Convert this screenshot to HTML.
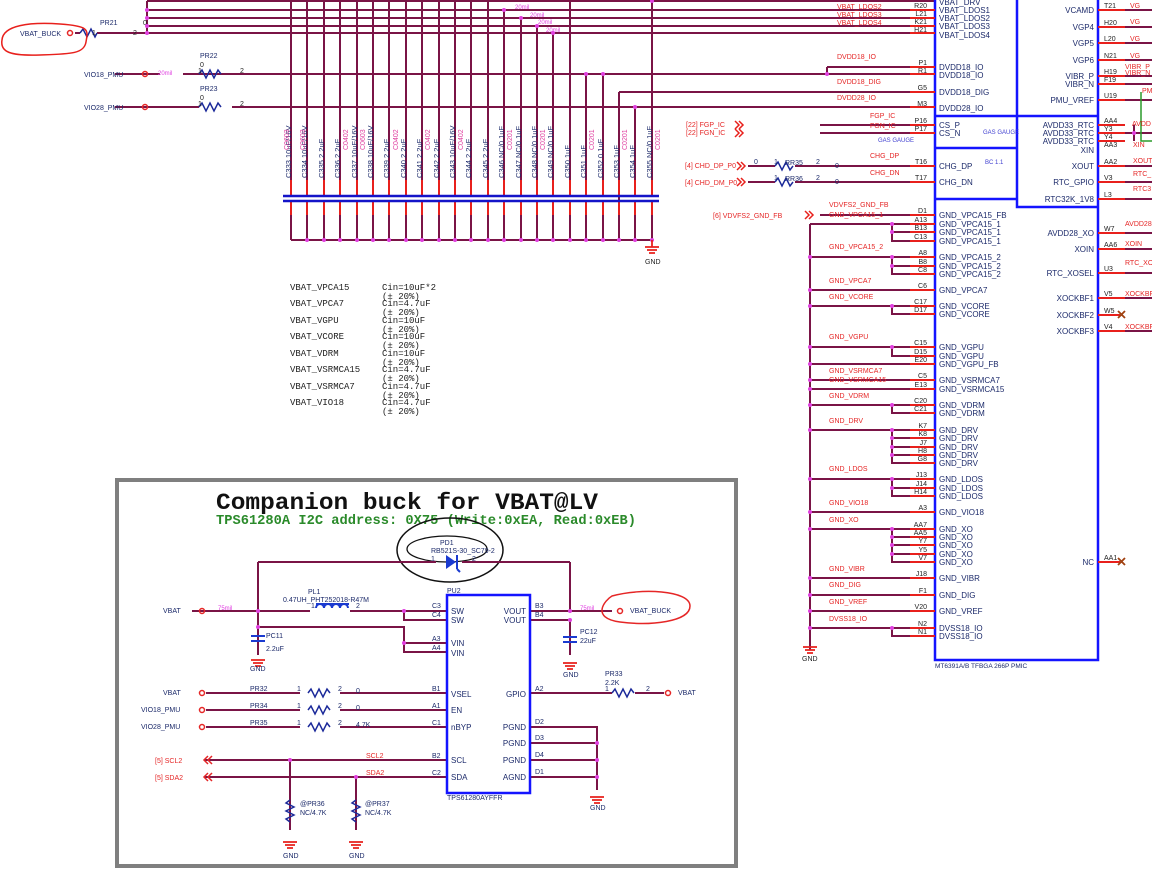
<!DOCTYPE html>
<html><head><meta charset="utf-8"><style>
html,body{margin:0;padding:0;background:#fff;width:1152px;height:877px;overflow:hidden}
svg{display:block;font-family:"Liberation Sans",sans-serif}
.w{stroke:#7a1446;stroke-width:2;fill:none}
.r{stroke:#e8201c;stroke-width:2;fill:none}
.b{stroke:#1414ff;stroke-width:2.5;fill:none}
.p{font-size:8px;fill:#1c2a6a}
.n{font-size:7px;fill:#e52626}
.k{font-size:7px;fill:#1c2a6a}
.g{font-size:7px;fill:#222}
.m{font-family:"Liberation Mono",monospace;font-size:9.5px;fill:#222}
</style></head><body>
<svg width="1152" height="877" viewBox="0 0 1152 877" xmlns="http://www.w3.org/2000/svg">
<path class="w" d="M147 1H935M147 10H910M147 18H910M147 26H910M75 33H80M97 33H910M147 1V33
M115 74H160M183 74H910M827 67H910M827 67V74M115 107H199M232 107H910M619 92H910M619 92V240"/>
<path stroke="#1c2a9a" stroke-width="1.5" fill="none" d="M80 33l3-4 4 8 4-8 4 8 2-4"/>
<path stroke="#1c2a9a" stroke-width="1.5" fill="none" d="M199 74l3-4 4 8 4-8 4 8 4-8 3 4M199 107l3-4 4 8 4-8 4 8 4-8 3 4"/>
<circle cx="70" cy="33" r="2.5" fill="none" stroke="#e52626" stroke-width="1.5"/>
<circle cx="145" cy="74" r="2.5" fill="none" stroke="#e52626" stroke-width="1.5"/>
<circle cx="145" cy="107" r="2.5" fill="none" stroke="#e52626" stroke-width="1.5"/>
<path d="M2 40C3 25 30 22 60 24S88 30 86 42 70 54 40 55 0 52 2 40Z" fill="none" stroke="#e8201c" stroke-width="1.5"/>
<text x="20" y="36" class="k">VBAT_BUCK</text>
<text x="92" y="35" class="g">1</text><text x="133" y="35" class="g">2</text><text x="143" y="25" class="g">0</text>
<text x="100" y="25" class="k">PR21</text>
<text x="84" y="110" class="k">VIO28_PMU</text><text x="84" y="77" class="k">VIO18_PMU</text>
<text x="200" y="58" class="k">PR22</text><text x="200" y="67" class="g">0</text><text x="198" y="73" class="g">1</text><text x="240" y="73" class="g">2</text>
<text x="200" y="91" class="k">PR23</text><text x="200" y="100" class="g">0</text><text x="198" y="106" class="g">1</text><text x="240" y="106" class="g">2</text>
<text x="158" y="75" font-size="6" fill="#e040e0">20mil</text>
<text x="515" y="9" font-size="6" fill="#e040e0">20mil</text><text x="530" y="17" font-size="6" fill="#e040e0">20mil</text>
<text x="538" y="24" font-size="6" fill="#e040e0">20mil</text><text x="546" y="32" font-size="6" fill="#e040e0">20mil</text>
<path class="w" d="M291 1V180M307 1V180M324 1V180M340 1V180M357 1V180M373 1V180M389 1V180M406 1V180M422 1V180M439 1V180M455 1V180M471 1V180M488 1V180M504 10V180M521 18V180M537 26V180M553 33V180M570 1V180M586 74V180M603 74V180M635 107V180M652 1V180
M291 215V240M307 215V240M324 215V240M340 215V240M357 215V240M373 215V240M389 215V240M406 215V240M422 215V240M439 215V240M455 215V240M471 215V240M488 215V240M504 215V240M521 215V240M537 215V240M553 215V240M570 215V240M586 215V240M603 215V240M619 215V240M635 215V240M652 215V240M291 240H652M619 180V190"/>
<path class="r" d="M291 180V196M307 180V196M324 180V196M340 180V196M357 180V196M373 180V196M389 180V196M406 180V196M422 180V196M439 180V196M455 180V196M471 180V196M488 180V196M504 180V196M521 180V196M537 180V196M553 180V196M570 180V196M586 180V196M603 180V196M619 180V196M635 180V196M652 180V196
M291 201V215M307 201V215M324 201V215M340 201V215M357 201V215M373 201V215M389 201V215M406 201V215M422 201V215M439 201V215M455 201V215M471 201V215M488 201V215M504 201V215M521 201V215M537 201V215M553 201V215M570 201V215M586 201V215M603 201V215M619 201V215M635 201V215M652 201V215"/>
<path stroke="#1414c8" stroke-width="2.5" d="M283 196H659M283 201H659"/>
<g fill="#e040e0"><circle cx="147" cy="10" r="2"/><circle cx="147" cy="18" r="2"/><circle cx="147" cy="26" r="2"/><circle cx="147" cy="33" r="2"/><circle cx="504" cy="10" r="2"/><circle cx="521" cy="18" r="2"/><circle cx="537" cy="26" r="2"/><circle cx="553" cy="33" r="2"/><circle cx="586" cy="74" r="2"/><circle cx="603" cy="74" r="2"/><circle cx="635" cy="107" r="2"/><circle cx="652" cy="1" r="2"/><circle cx="827" cy="74" r="2"/></g>
<g fill="#e040e0"><circle cx="307" cy="240" r="2"/><circle cx="324" cy="240" r="2"/><circle cx="340" cy="240" r="2"/><circle cx="357" cy="240" r="2"/><circle cx="373" cy="240" r="2"/><circle cx="389" cy="240" r="2"/><circle cx="406" cy="240" r="2"/><circle cx="422" cy="240" r="2"/><circle cx="439" cy="240" r="2"/><circle cx="455" cy="240" r="2"/><circle cx="471" cy="240" r="2"/><circle cx="488" cy="240" r="2"/><circle cx="504" cy="240" r="2"/><circle cx="521" cy="240" r="2"/><circle cx="537" cy="240" r="2"/><circle cx="553" cy="240" r="2"/><circle cx="570" cy="240" r="2"/><circle cx="586" cy="240" r="2"/><circle cx="603" cy="240" r="2"/><circle cx="619" cy="240" r="2"/><circle cx="635" cy="240" r="2"/><circle cx="652" cy="240" r="2"/></g>
<path d="M645 247h14M647 250h10M649 253h6M652 240v7" stroke="#e8201c" stroke-width="1.8"/>
<text x="645" y="264" class="g">GND</text>
<g font-size="7.5" fill="#1c2a6a">
<text transform="translate(291,178) rotate(-90)">C333 <tspan>10uF/16V</tspan></text>
<text transform="translate(307,178) rotate(-90)">C334 10uF/16V</text>
<text transform="translate(324,178) rotate(-90)">C335 2.2uF</text>
<text transform="translate(340,178) rotate(-90)">C336 2.2uF</text>
<text transform="translate(357,178) rotate(-90)">C337 10uF/16V</text>
<text transform="translate(373,178) rotate(-90)">C338 10uF/16V</text>
<text transform="translate(389,178) rotate(-90)">C339 2.2uF</text>
<text transform="translate(406,178) rotate(-90)">C340 2.2uF</text>
<text transform="translate(422,178) rotate(-90)">C341 2.2uF</text>
<text transform="translate(439,178) rotate(-90)">C342 2.2uF</text>
<text transform="translate(455,178) rotate(-90)">C343 10uF/16V</text>
<text transform="translate(471,178) rotate(-90)">C344 2.2uF</text>
<text transform="translate(488,178) rotate(-90)">C345 2.2uF</text>
<text transform="translate(504,178) rotate(-90)">C346 NC/0.1uF</text>
<text transform="translate(521,178) rotate(-90)">C347 NC/0.1uF</text>
<text transform="translate(537,178) rotate(-90)">C348 NC/0.1uF</text>
<text transform="translate(553,178) rotate(-90)">C349 NC/0.1uF</text>
<text transform="translate(570,178) rotate(-90)">C350 1uF</text>
<text transform="translate(586,178) rotate(-90)">C351 1uF</text>
<text transform="translate(603,178) rotate(-90)">C352 0.1uF</text>
<text transform="translate(619,178) rotate(-90)">C353 1uF</text>
<text transform="translate(635,178) rotate(-90)">C354 1uF</text>
<text transform="translate(652,178) rotate(-90)">C355 NC/0.1uF</text>
</g>
<g font-size="7" fill="#e040a0">
<text transform="translate(289,150) rotate(-90)">C0603</text><text transform="translate(305,150) rotate(-90)">C0603</text>
<text transform="translate(348,150) rotate(-90)">C0402</text><text transform="translate(365,150) rotate(-90)">C0603</text>
<text transform="translate(398,150) rotate(-90)">C0402</text><text transform="translate(430,150) rotate(-90)">C0402</text>
<text transform="translate(463,150) rotate(-90)">C0402</text><text transform="translate(512,150) rotate(-90)">C0201</text>
<text transform="translate(545,150) rotate(-90)">C0201</text><text transform="translate(594,150) rotate(-90)">C0201</text>
<text transform="translate(627,150) rotate(-90)">C0201</text><text transform="translate(660,150) rotate(-90)">C0201</text>
</g>
<g font-family="Liberation Mono,monospace" font-size="9" fill="#222">
<text x="290" y="290">VBAT_VPCA15</text><text x="382" y="290">Cin=10uF*2</text>
<text x="290" y="306">VBAT_VPCA7</text><text x="382" y="306">Cin=4.7uF</text>
<text x="290" y="323">VBAT_VGPU</text><text x="382" y="323">Cin=10uF</text>
<text x="290" y="339">VBAT_VCORE</text><text x="382" y="339">Cin=10uF</text>
<text x="290" y="356">VBAT_VDRM</text><text x="382" y="356">Cin=10uF</text>
<text x="290" y="372">VBAT_VSRMCA15</text><text x="382" y="372">Cin=4.7uF</text>
<text x="290" y="389">VBAT_VSRMCA7</text><text x="382" y="389">Cin=4.7uF</text>
<text x="290" y="405">VBAT_VIO18</text><text x="382" y="405">Cin=4.7uF</text>
<text x="382" y="299">(± 20%)</text><text x="382" y="315">(± 20%)</text><text x="382" y="332">(± 20%)</text><text x="382" y="348">(± 20%)</text><text x="382" y="365">(± 20%)</text><text x="382" y="381">(± 20%)</text><text x="382" y="398">(± 20%)</text><text x="382" y="414">(± 20%)</text>
</g>
<path class="b" d="M935 0V660H1098V0M1017 0V207H1098M935 116H1017M935 148H1017M935 199H1017M1017 116H1098"/>
<path class="r" d="M910 10H935M910 18H935M910 26H935M910 33H935M910 67H935M910 74H935M910 92H935M910 107H935M910 125H935M910 133H935M910 166H935M910 182H935M910 215H935M910 224H935M910 232H935M910 241H935M910 257H935M910 266H935M910 274H935M910 290H935M910 306H935M910 314H935M910 347H935M910 356H935M910 364H935M910 380H935M910 389H935M910 405H935M910 413H935M910 430H935M910 438H935M910 447H935M910 455H935M910 463H935M910 479H935M910 488H935M910 496H935M910 512H935M910 529H935M910 537H935M910 545H935M910 554H935M910 562H935M910 578H935M910 595H935M910 611H935M910 628H935M910 636H935"/>
<path class="r" d="M1098 10H1125M1098 27H1125M1098 43H1125M1098 60H1125M1098 76H1125M1098 84H1125M1098 100H1125M1098 125H1125M1098 133H1125M1098 141H1125M1098 166H1125M1098 182H1125M1098 199H1125M1098 233H1125M1098 249H1125M1098 273H1125M1098 298H1125M1098 315H1120M1098 331H1125M1098 562H1120"/>
<path class="w" d="M1125 10H1152M1125 27H1152M1125 43H1152M1125 60H1152M1125 76H1152M1125 84H1152M1125 100H1152M1125 166H1152M1125 182H1152M1125 199H1152M1125 233H1152M1125 249H1152M1125 273H1152M1125 298H1152M1125 331H1152M1134 125V141M1125 133H1152"/>
<path d="M1141 92V141H1152" stroke="#2a9a2a" stroke-width="1.5" fill="none"/>
<path d="M1118 311l7 7M1125 311l-7 7M1118 558l7 7M1125 558l-7 7" stroke="#a04010" stroke-width="1.8"/>
<path class="w" d="M820 125H910M820 133H910M748 166H775M795 166H910M748 182H775M795 182H910M820 215H910
M810 224V650M810 224H910M892 224V241H910M892 232H910M810 257H910M892 257V274H910M892 266H910M810 290H910M810 306H910M892 306V314H910
M810 347H910M892 347V356H910M810 364H910M810 380H910M810 389H910M810 405H910M892 405V413H910
M810 430H910M892 430V463H910M892 438H910M892 447H910M892 455H910M810 479H910M892 479V496H910M892 488H910M810 512H910
M810 529H910M892 529V562H910M892 537H910M892 545H910M892 554H910M810 578H910M810 595H910M810 611H910M810 628H910M892 628V636H910"/>
<path stroke="#1c2a9a" stroke-width="1.5" fill="none" d="M775 166l3-4 4 8 4-8 4 8 3-4M775 182l3-4 4 8 4-8 4 8 3-4"/>
<g fill="#e040e0"><circle cx="810" cy="257" r="2"/><circle cx="810" cy="290" r="2"/><circle cx="810" cy="306" r="2"/><circle cx="810" cy="347" r="2"/><circle cx="810" cy="364" r="2"/><circle cx="810" cy="380" r="2"/><circle cx="810" cy="389" r="2"/><circle cx="810" cy="405" r="2"/><circle cx="810" cy="430" r="2"/><circle cx="810" cy="479" r="2"/><circle cx="810" cy="512" r="2"/><circle cx="810" cy="529" r="2"/><circle cx="810" cy="578" r="2"/><circle cx="810" cy="595" r="2"/><circle cx="810" cy="611" r="2"/><circle cx="810" cy="628" r="2"/>
<circle cx="892" cy="224" r="2"/><circle cx="892" cy="232" r="2"/><circle cx="892" cy="257" r="2"/><circle cx="892" cy="266" r="2"/><circle cx="892" cy="306" r="2"/><circle cx="892" cy="347" r="2"/><circle cx="892" cy="405" r="2"/><circle cx="892" cy="430" r="2"/><circle cx="892" cy="438" r="2"/><circle cx="892" cy="447" r="2"/><circle cx="892" cy="455" r="2"/><circle cx="892" cy="479" r="2"/><circle cx="892" cy="488" r="2"/><circle cx="892" cy="529" r="2"/><circle cx="892" cy="537" r="2"/><circle cx="892" cy="545" r="2"/><circle cx="892" cy="554" r="2"/><circle cx="892" cy="628" r="2"/><circle cx="1134" cy="133" r="2"/></g>
<path d="M803 647h14M805 650h10M807 653h6" stroke="#e8201c" stroke-width="1.8"/>
<text x="802" y="661" class="g">GND</text>
<g stroke="#e8201c" stroke-width="1.5" fill="none"><path d="M735 121l4 4-4 4M739 121l4 4-4 4M735 129l4 4-4 4M739 129l4 4-4 4M737 162l4 4-4 4M741 162l4 4-4 4M737 178l4 4-4 4M741 178l4 4-4 4M805 211l4 4-4 4M809 211l4 4-4 4"/></g>
<g class="n">
<text x="686" y="127">[22]  FGP_IC</text><text x="686" y="135">[22]  FGN_IC</text>
<text x="685" y="168">[4]  CHD_DP_P0</text><text x="685" y="185">[4]  CHD_DM_P0</text>
<text x="713" y="218">[6]  VDVFS2_GND_FB</text>
<text x="837" y="59">DVDD18_IO</text><text x="837" y="84">DVDD18_DIG</text><text x="837" y="100">DVDD28_IO</text>
<text x="870" y="118">FGP_IC</text><text x="870" y="128">FGN_IC</text><text x="870" y="158">CHG_DP</text><text x="870" y="175">CHG_DN</text>
<text x="829" y="207">VDVFS2_GND_FB</text><text x="829" y="217">GND_VPCA15_1</text>
<text x="829" y="249">GND_VPCA15_2</text><text x="829" y="283">GND_VPCA7</text><text x="829" y="299">GND_VCORE</text>
<text x="829" y="339">GND_VGPU</text><text x="829" y="373">GND_VSRMCA7</text><text x="829" y="382">GND_VSRMCA15</text><text x="829" y="398">GND_VDRM</text>
<text x="829" y="423">GND_DRV</text><text x="829" y="471">GND_LDOS</text><text x="829" y="505">GND_VIO18</text><text x="829" y="522">GND_XO</text>
<text x="829" y="571">GND_VIBR</text><text x="829" y="587">GND_DIG</text><text x="829" y="604">GND_VREF</text><text x="829" y="621">DVSS18_IO</text>
<text x="837" y="9">VBAT_LDOS2</text><text x="837" y="17">VBAT_LDOS3</text><text x="837" y="25">VBAT_LDOS4</text>
<text x="1130" y="8">VG</text><text x="1130" y="24">VG</text><text x="1130" y="41">VG</text><text x="1130" y="58">VG</text><text x="1125" y="69">VIBR_P</text><text x="1125" y="75">VIBR_N</text><text x="1142" y="93">PM</text>
<text x="1132" y="126">AVDD</text><text x="1133" y="147">XIN</text><text x="1133" y="163">XOUT</text><text x="1133" y="176">RTC_</text><text x="1133" y="191">RTC3</text><text x="1125" y="226">AVDD28</text><text x="1125" y="246">XOIN</text><text x="1125" y="265">RTC_XO</text><text x="1125" y="296">XOCKBF</text><text x="1125" y="329">XOCKBF</text>
<text x="754" y="164" class="k">0</text>
</g>
<g class="k"><text x="785" y="165">RR35</text><text x="785" y="181">RR36</text><text x="774" y="164">1</text><text x="816" y="164">2</text><text x="835" y="168">0</text><text x="774" y="180">1</text><text x="816" y="180">2</text><text x="835" y="184">0</text>
<text x="878" y="142" font-size="6" fill="#4040d0">GAS  GAUGE</text><text x="983" y="134" font-size="6" fill="#4040d0">GAS  GAUGE</text><text x="985" y="164" font-size="6" fill="#4040d0">BC  1.1</text></g>
<g class="g" text-anchor="end">
<text x="927" y="8">R20</text><text x="927" y="16">L21</text><text x="927" y="24">K21</text><text x="927" y="32">H21</text>
<text x="927" y="65">P1</text><text x="927" y="73">R1</text><text x="927" y="90">G5</text><text x="927" y="106">M3</text>
<text x="927" y="123">P16</text><text x="927" y="131">P17</text><text x="927" y="164">T16</text><text x="927" y="180">T17</text>
<text x="927" y="213">D1</text><text x="927" y="222">A13</text><text x="927" y="230">B13</text><text x="927" y="239">C13</text>
<text x="927" y="255">A8</text><text x="927" y="264">B8</text><text x="927" y="272">C8</text><text x="927" y="288">C6</text><text x="927" y="304">C17</text><text x="927" y="312">D17</text>
<text x="927" y="345">C15</text><text x="927" y="354">D15</text><text x="927" y="362">E20</text><text x="927" y="378">C5</text><text x="927" y="387">E13</text><text x="927" y="403">C20</text><text x="927" y="411">C21</text>
<text x="927" y="428">K7</text><text x="927" y="436">K8</text><text x="927" y="445">J7</text><text x="927" y="453">H8</text><text x="927" y="461">G8</text>
<text x="927" y="477">J13</text><text x="927" y="486">J14</text><text x="927" y="494">H14</text><text x="927" y="510">A3</text>
<text x="927" y="527">AA7</text><text x="927" y="535">AA5</text><text x="927" y="543">Y7</text><text x="927" y="552">Y5</text><text x="927" y="560">V7</text>
<text x="927" y="576">J18</text><text x="927" y="593">F1</text><text x="927" y="609">V20</text><text x="927" y="626">N2</text><text x="927" y="634">N1</text>
</g>
<g class="g"><text x="1104" y="8">T21</text><text x="1104" y="25">H20</text><text x="1104" y="41">L20</text><text x="1104" y="58">N21</text><text x="1104" y="74">H19</text><text x="1104" y="82">F19</text><text x="1104" y="98">U19</text>
<text x="1104" y="123">AA4</text><text x="1104" y="131">Y3</text><text x="1104" y="139">Y4</text><text x="1104" y="147">AA3</text><text x="1104" y="164">AA2</text><text x="1104" y="180">V3</text><text x="1104" y="197">L3</text>
<text x="1104" y="231">W7</text><text x="1104" y="247">AA6</text><text x="1104" y="271">U3</text><text x="1104" y="296">V5</text><text x="1104" y="313">W5</text><text x="1104" y="329">V4</text><text x="1104" y="560">AA1</text></g>
<g class="p">
<text x="939" y="5">VBAT_DRV</text><text x="939" y="13">VBAT_LDOS1</text><text x="939" y="21">VBAT_LDOS2</text><text x="939" y="29">VBAT_LDOS3</text><text x="939" y="38">VBAT_LDOS4</text>
<text x="939" y="70">DVDD18_IO</text><text x="939" y="78">DVDD18_IO</text><text x="939" y="95">DVDD18_DIG</text><text x="939" y="111">DVDD28_IO</text>
<text x="939" y="128">CS_P</text><text x="939" y="136">CS_N</text><text x="939" y="169">CHG_DP</text><text x="939" y="185">CHG_DN</text>
<text x="939" y="218">GND_VPCA15_FB</text><text x="939" y="227">GND_VPCA15_1</text><text x="939" y="235">GND_VPCA15_1</text><text x="939" y="244">GND_VPCA15_1</text>
<text x="939" y="260">GND_VPCA15_2</text><text x="939" y="269">GND_VPCA15_2</text><text x="939" y="277">GND_VPCA15_2</text><text x="939" y="293">GND_VPCA7</text><text x="939" y="309">GND_VCORE</text><text x="939" y="317">GND_VCORE</text>
<text x="939" y="350">GND_VGPU</text><text x="939" y="359">GND_VGPU</text><text x="939" y="367">GND_VGPU_FB</text><text x="939" y="383">GND_VSRMCA7</text><text x="939" y="392">GND_VSRMCA15</text><text x="939" y="408">GND_VDRM</text><text x="939" y="416">GND_VDRM</text>
<text x="939" y="433">GND_DRV</text><text x="939" y="441">GND_DRV</text><text x="939" y="450">GND_DRV</text><text x="939" y="458">GND_DRV</text><text x="939" y="466">GND_DRV</text>
<text x="939" y="482">GND_LDOS</text><text x="939" y="491">GND_LDOS</text><text x="939" y="499">GND_LDOS</text><text x="939" y="515">GND_VIO18</text>
<text x="939" y="532">GND_XO</text><text x="939" y="540">GND_XO</text><text x="939" y="548">GND_XO</text><text x="939" y="557">GND_XO</text><text x="939" y="565">GND_XO</text>
<text x="939" y="581">GND_VIBR</text><text x="939" y="598">GND_DIG</text><text x="939" y="614">GND_VREF</text><text x="939" y="631">DVSS18_IO</text><text x="939" y="639">DVSS18_IO</text>
</g>
<g class="p" text-anchor="end">
<text x="1094" y="13">VCAMD</text><text x="1094" y="30">VGP4</text><text x="1094" y="46">VGP5</text><text x="1094" y="63">VGP6</text><text x="1094" y="79">VIBR_P</text><text x="1094" y="87">VIBR_N</text><text x="1094" y="103">PMU_VREF</text>
<text x="1094" y="128">AVDD33_RTC</text><text x="1094" y="136">AVDD33_RTC</text><text x="1094" y="144">AVDD33_RTC</text><text x="1094" y="153">XIN</text><text x="1094" y="169">XOUT</text><text x="1094" y="185">RTC_GPIO</text><text x="1094" y="202">RTC32K_1V8</text>
<text x="1094" y="236">AVDD28_XO</text><text x="1094" y="252">XOIN</text><text x="1094" y="276">RTC_XOSEL</text><text x="1094" y="301">XOCKBF1</text><text x="1094" y="318">XOCKBF2</text><text x="1094" y="334">XOCKBF3</text><text x="1094" y="565">NC</text>
</g>
<text x="935" y="668" font-size="6.5" fill="#1c2a6a">MT6391A/B TFBGA 266P PMIC</text>

<rect x="117" y="480" width="619" height="386" fill="#fff" stroke="#7f7f7f" stroke-width="4"/>
<text x="216" y="509" font-family="Liberation Mono,monospace" font-size="23.5" font-weight="bold" fill="#111" textLength="382" lengthAdjust="spacingAndGlyphs">Companion buck for VBAT@LV</text>
<text x="216" y="524" font-family="Liberation Mono,monospace" font-size="13.5" font-weight="bold" fill="#2a8a2a" textLength="420" lengthAdjust="spacingAndGlyphs">TPS61280A I2C address: 0X75 (Write:0xEA, Read:0xEB)</text>
<ellipse cx="450" cy="550" rx="53" ry="32" fill="none" stroke="#111" stroke-width="1.5"/>
<ellipse cx="447" cy="549" rx="40" ry="13" fill="none" stroke="#111" stroke-width="1.3"/>
<path class="w" d="M258 562H436M462 562H570M258 562V655M570 562V611M192 611H310M350 611H447M404 611V620H447M258 627H404V652H447M404 643H447M530 611H612M530 620H570V655
M206 693H300M340 693H447M206 710H300M340 710H447M206 727H300M340 727H447M205 760H447M205 777H447M290 760V830M356 777V830
M530 693H612M635 693H664M530 727H597V790M530 743H597M530 760H597M530 777H597"/>
<path d="M446 555v14l10-7z" fill="#1a3ad0"/><path d="M457 555v14M457 569l3 3" stroke="#1a3ad0" stroke-width="2" fill="none"/>
<path d="M316 608a4 4 0 0 1 8 0a4 4 0 0 1 8 0a4 4 0 0 1 8 0a4 4 0 0 1 8 0" stroke="#1a3ad0" stroke-width="2" fill="none"/><path d="M316 604h33" stroke="#1a3ad0" stroke-width="2"/>
<path d="M251 636h14M251 641h14M563 637h14M563 642h14" stroke="#1a3ad0" stroke-width="2"/>
<path stroke="#1c2a9a" stroke-width="1.5" fill="none" d="M308 693l3-4 4 8 4-8 4 8 4-8 3 4M308 710l3-4 4 8 4-8 4 8 4-8 3 4M308 727l3-4 4 8 4-8 4 8 4-8 3 4M612 693l3-4 4 8 4-8 4 8 4-8 3 4M290 800l-4 3 8 4-8 4 8 4-8 4 4 3M356 800l-4 3 8 4-8 4 8 4-8 4 4 3"/>
<path d="M251 660h14M253 663h10M255 666h6M563 663h14M565 666h10M567 669h6M590 797h14M592 800h10M594 803h6M283 842h14M285 845h10M287 848h6M349 842h14M351 845h10M353 848h6" stroke="#e8201c" stroke-width="1.8"/>
<rect x="447" y="595" width="83" height="198" fill="none" stroke="#1414ff" stroke-width="2.5"/>
<g fill="#e040e0"><circle cx="258" cy="611" r="2"/><circle cx="258" cy="627" r="2"/><circle cx="404" cy="611" r="2"/><circle cx="404" cy="643" r="2"/><circle cx="570" cy="611" r="2"/><circle cx="570" cy="620" r="2"/><circle cx="290" cy="760" r="2"/><circle cx="356" cy="777" r="2"/><circle cx="597" cy="743" r="2"/><circle cx="597" cy="760" r="2"/><circle cx="597" cy="777" r="2"/></g>
<g fill="none" stroke="#e52626" stroke-width="1.5"><circle cx="202" cy="611" r="2.5"/><circle cx="202" cy="693" r="2.5"/><circle cx="202" cy="710" r="2.5"/><circle cx="202" cy="727" r="2.5"/><circle cx="620" cy="611" r="2.5"/><circle cx="668" cy="693" r="2.5"/>
<path d="M208 756l-4 4 4 4M212 756l-4 4 4 4M208 773l-4 4 4 4M212 773l-4 4 4 4"/>
<path d="M612 596C640 588 690 590 690 606S650 626 620 622 605 600 612 596Z"/></g>
<g class="k">
<text x="163" y="613">VBAT</text><text x="163" y="695">VBAT</text><text x="141" y="712">VIO18_PMU</text><text x="141" y="729">VIO28_PMU</text>
<text x="630" y="613">VBAT_BUCK</text><text x="678" y="695">VBAT</text>
<text x="440" y="545">PD1</text><text x="431" y="553">RB521S-30_SC79-2</text><text x="431" y="561">1</text><text x="472" y="561">2</text>
<text x="308" y="594">PL1</text><text x="283" y="602">0.47UH_PHT252018-R47M</text><text x="311" y="608">1</text><text x="356" y="608">2</text>
<text x="447" y="593">PU2</text><text x="447" y="800">TPS61280AYFFR</text>
<text x="266" y="638">PC11</text><text x="266" y="651">2.2uF</text><text x="580" y="634">PC12</text><text x="580" y="643">22uF</text>
<text x="250" y="691">PR32</text><text x="250" y="708">PR34</text><text x="250" y="725">PR35</text>
<text x="297" y="691">1</text><text x="338" y="691">2</text><text x="356" y="693">0</text><text x="297" y="708">1</text><text x="338" y="708">2</text><text x="356" y="710">0</text><text x="297" y="725">1</text><text x="338" y="725">2</text><text x="356" y="727">4.7K</text>
<text x="605" y="676">PR33</text><text x="605" y="685">2.2K</text><text x="605" y="691">1</text><text x="646" y="691">2</text>
<text x="300" y="806">@PR36</text><text x="300" y="815">NC/4.7K</text><text x="365" y="806">@PR37</text><text x="365" y="815">NC/4.7K</text>
<text x="250" y="671">GND</text><text x="563" y="677">GND</text><text x="590" y="810">GND</text><text x="283" y="858">GND</text><text x="349" y="858">GND</text>
<text x="432" y="608">C3</text><text x="432" y="617">C4</text><text x="432" y="641">A3</text><text x="432" y="650">A4</text><text x="432" y="691">B1</text><text x="432" y="708">A1</text><text x="432" y="725">C1</text><text x="432" y="758">B2</text><text x="432" y="775">C2</text>
<text x="535" y="608">B3</text><text x="535" y="617">B4</text><text x="535" y="691">A2</text><text x="535" y="724">D2</text><text x="535" y="740">D3</text><text x="535" y="757">D4</text><text x="535" y="774">D1</text>
</g>
<g class="p">
<text x="451" y="614">SW</text><text x="451" y="623">SW</text><text x="451" y="646">VIN</text><text x="451" y="656">VIN</text><text x="451" y="697">VSEL</text><text x="451" y="713">EN</text><text x="451" y="730">nBYP</text><text x="451" y="763">SCL</text><text x="451" y="780">SDA</text>
</g>
<g class="p" text-anchor="end"><text x="526" y="614">VOUT</text><text x="526" y="623">VOUT</text><text x="526" y="697">GPIO</text><text x="526" y="730">PGND</text><text x="526" y="746">PGND</text><text x="526" y="763">PGND</text><text x="526" y="780">AGND</text></g>
<g class="n"><text x="155" y="763">[5]  SCL2</text><text x="155" y="780">[5]  SDA2</text><text x="366" y="758">SCL2</text><text x="366" y="775">SDA2</text></g>
<text x="218" y="610" font-size="6" fill="#e040e0">75mil</text><text x="580" y="610" font-size="6" fill="#e040e0">75mil</text>
</svg>
</body></html>
